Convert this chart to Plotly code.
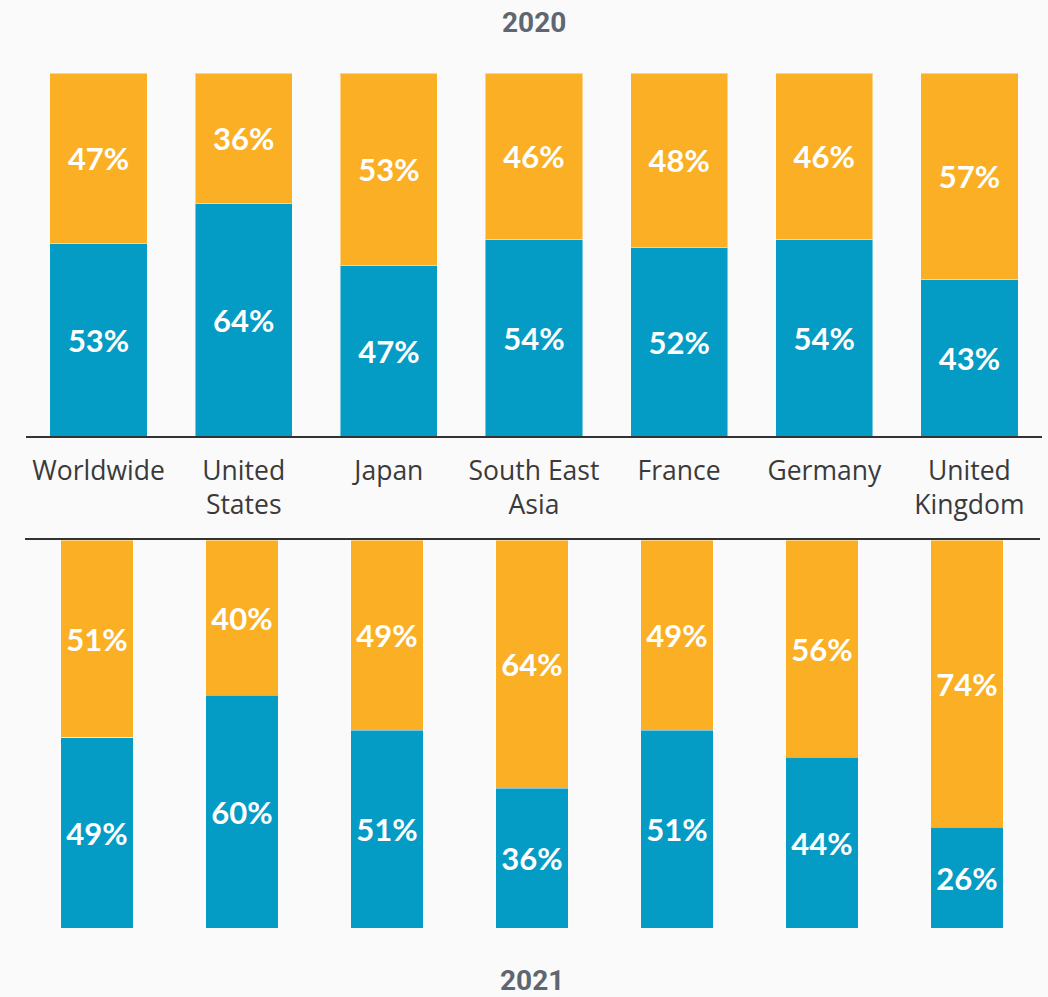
import plotly.graph_objects as go

# Share split per market, 2020 and 2021
categories = ["Worldwide", "United<br>States", "Japan", "South East<br>Asia",
              "France", "Germany", "United<br>Kingdom"]
blue_2020 = [53, 64, 47, 54, 52, 54, 43]
orange_2020 = [47, 36, 53, 46, 48, 46, 57]
blue_2021 = [49, 60, 51, 36, 51, 44, 26]
orange_2021 = [51, 40, 49, 64, 49, 56, 74]
years = ["2020", "2021"]

BLUE = "#049BC5"
ORANGE = "#FBAF25"
BG = "#FAFAFA"
LABEL_FONT = dict(family="Lato", size=31, color="#FFFFFF", weight="bold")
EDGE = dict(color="rgba(255,255,255,0.45)", width=1)

W, H = 1048, 997

fig = go.Figure()

# top panel: blue at the base, orange stacked above
fig.add_trace(go.Bar(x=categories, y=blue_2020, marker=dict(color=BLUE, line=EDGE),
                     width=0.67, texttemplate="%{y}%", textposition="inside",
                     insidetextanchor="middle", textangle=0, textfont=LABEL_FONT,
                     xaxis="x", yaxis="y", hoverinfo="skip"))
fig.add_trace(go.Bar(x=categories, y=orange_2020, marker=dict(color=ORANGE, line=EDGE),
                     width=0.67, texttemplate="%{y}%", textposition="inside",
                     insidetextanchor="middle", textangle=0, textfont=LABEL_FONT,
                     xaxis="x", yaxis="y", hoverinfo="skip"))

# bottom panel hangs from its line: orange first on a reversed axis
fig.add_trace(go.Bar(x=categories, y=orange_2021, marker=dict(color=ORANGE, line=EDGE),
                     width=0.5, texttemplate="%{y}%", textposition="inside",
                     insidetextanchor="middle", textangle=0, textfont=LABEL_FONT,
                     xaxis="x2", yaxis="y2", hoverinfo="skip"))
fig.add_trace(go.Bar(x=categories, y=blue_2021, marker=dict(color=BLUE, line=EDGE),
                     width=0.5, texttemplate="%{y}%", textposition="inside",
                     insidetextanchor="middle", textangle=0, textfont=LABEL_FONT,
                     xaxis="x2", yaxis="y2", hoverinfo="skip"))

def px_x(p):
    return p / W

def px_y(p):
    return 1 - p / H

fig.update_layout(
    width=W, height=H,
    margin=dict(l=0, r=0, t=0, b=0),
    paper_bgcolor=BG, plot_bgcolor=BG,
    barmode="stack",
    showlegend=False,
    xaxis=dict(domain=[px_x(26), px_x(1042)], anchor="y",
               showline=True, linecolor="#333333", linewidth=2,
               showgrid=False, zeroline=False,
               ticks="outside", ticklen=10, tickcolor="rgba(0,0,0,0)",
               tickfont=dict(family="Open Sans", size=26.5, color="#3A3A3A")),
    yaxis=dict(domain=[px_y(436), px_y(73)], range=[0, 100], anchor="x",
               visible=False),
    xaxis2=dict(domain=[px_x(24.5), px_x(1039.5)], anchor="y2", side="top",
                showline=True, linecolor="#333333", linewidth=2,
                showgrid=False, zeroline=False, showticklabels=False),
    yaxis2=dict(domain=[px_y(928), px_y(540)], range=[100, 0], anchor="x2",
                visible=False),
    annotations=[
        dict(text=years[0], xref="x domain", yref="paper", x=0.5, y=px_y(22),
             showarrow=False, xanchor="center", yanchor="middle",
             font=dict(family="Roboto", size=28, color="#5F6670", weight="bold")),
        dict(text=years[1], xref="x2 domain", yref="paper", x=0.5, y=px_y(980),
             showarrow=False, xanchor="center", yanchor="middle",
             font=dict(family="Roboto", size=28, color="#5F6670", weight="bold")),
    ],
)

fig.write_html("out.html")
